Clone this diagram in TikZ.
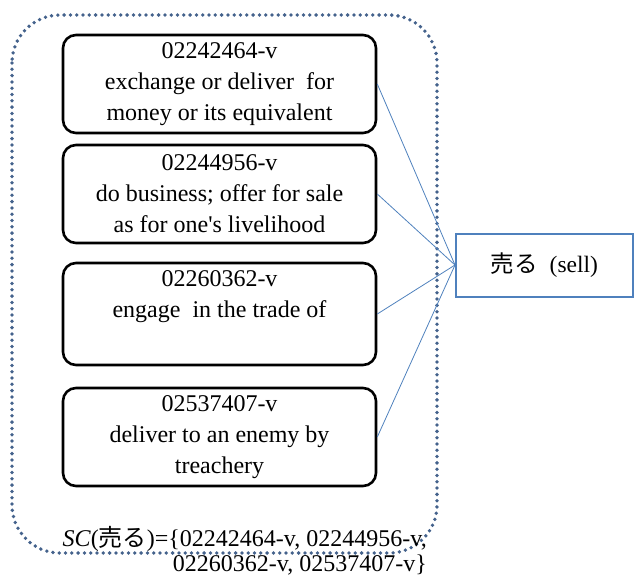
\documentclass[tikz,border=0pt]{standalone}
\usepackage{fontspec}
\setmainfont{Liberation Serif}
\newfontfamily\jp{Noto Sans CJK JP}
\definecolor{dotblue}{RGB}{68,98,140}
\definecolor{lineblue}{RGB}{79,129,189}
\tikzset{
  sense/.style={draw=black, line width=2.6pt, rounded corners=13pt, minimum width=313pt, minimum height=98pt, align=center, inner sep=2pt, font=\fontsize{24}{31}\selectfont},
  link/.style={draw=lineblue, line width=0.8pt},
}
\begin{document}
\begin{tikzpicture}[x=1pt,y=-1pt]
\useasboundingbox (0,0) rectangle (634,578);
\draw[dotblue, line width=3.8pt, line cap=round, dash pattern=on 0pt off 6.3pt, rounded corners=48pt] (12,15) rectangle (437,553);
\node[sense] (b1) at (219.5,84) {02242464-v\\exchange or deliver\ \ for\\money or its equivalent};
\node[sense] (b2) at (219.5,194) {02244956-v\\do business; offer for sale\\as for one\textquotesingle s livelihood};
\node[sense, minimum height=102pt] (b3) at (219.5,314) {02260362-v\\engage\ \ in the trade of\\\strut};
\node[sense] (b4) at (219.5,437) {02537407-v\\deliver to an enemy by\\treachery};
\node[draw=lineblue, line width=2pt, minimum width=177pt, minimum height=63pt, font=\fontsize{23.5}{26}\selectfont] (sell) at (544.5,265) {{\jp 売る}\ \ (sell)};
\foreach \b in {b1,b2,b3,b4} \draw[link] (\b.east) -- (sell.west);
\node[anchor=east, align=right, inner sep=0pt, font=\fontsize{24}{25}\selectfont] (sc) at (427,551) {\textit{SC}({\jp 売る})=\{02242464-v, 02244956-v,\\02260362-v, 02537407-v\}};
\end{tikzpicture}
\end{document}
